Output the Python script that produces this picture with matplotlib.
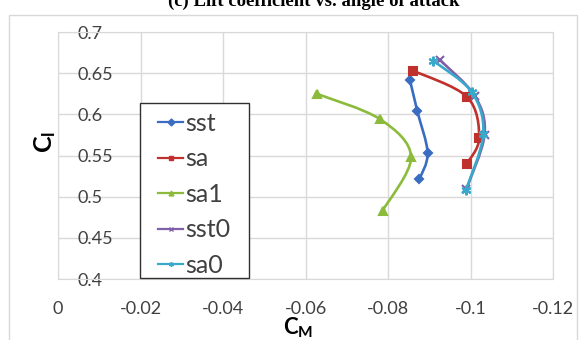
import matplotlib
matplotlib.use('Agg')
import matplotlib.pyplot as plt
from matplotlib.path import Path
from matplotlib.patches import PathPatch, Rectangle
from matplotlib.lines import Line2D

plt.rcParams['font.family'] = ['Lato', 'DejaVu Sans']
plt.rcParams['mathtext.fontset'] = 'custom'
plt.rcParams['mathtext.rm'] = 'Lato'
plt.rcParams['mathtext.bf'] = 'Lato:bold'

# data (C_M, C_l)
names = ['sst', 'sa', 'sa1', 'sst0', 'sa0']
sst_cm = [-0.0853, -0.0871, -0.0896, -0.0876]
sst_cl = [0.642, 0.604, 0.553, 0.521]
sa_cm = [-0.0861, -0.0992, -0.1021, -0.0991]
sa_cl = [0.653, 0.621, 0.571, 0.540]
sa1_cm = [-0.0627, -0.0781, -0.0856, -0.0787]
sa1_cl = [0.625, 0.594, 0.548, 0.483]
sst0_cm = [-0.0926, -0.1011, -0.1034, -0.0990]
sst0_cl = [0.666, 0.622, 0.575, 0.509]
sa0_cm = [-0.0910, -0.1003, -0.1031, -0.0989]
sa0_cl = [0.665, 0.627, 0.576, 0.508]

xticks = [0, -0.02, -0.04, -0.06, -0.08, -0.1, -0.12]
xticklabels = ['0', '-0.02', '-0.04', '-0.06', '-0.08', '-0.1', '-0.12']
yticks = [0.4, 0.45, 0.5, 0.55, 0.6, 0.65, 0.7]
yticklabels = ['0.4', '0.45', '0.5', '0.55', '0.6', '0.65', '0.7']

colors = ['#3A6CC2', '#C0302C', '#8CBB3C', '#7E5FA8', '#38A9CA']
markers = ['D', 's', '^', 'x', (6, 2, 0)]
msizes = [4.5, 6, 6, 6, 7]


def smooth_path(xs, ys):
    # Excel-style smoothed line: cubic bezier through the points
    pts = list(zip(xs, ys))
    verts = [pts[0]]
    codes = [Path.MOVETO]
    n = len(pts)
    for i in range(n - 1):
        p0 = pts[i - 1] if i > 0 else pts[i]
        p1 = pts[i]
        p2 = pts[i + 1]
        p3 = pts[i + 2] if i + 2 < n else pts[i + 1]
        c1 = (p1[0] + (p2[0] - p0[0]) / 6, p1[1] + (p2[1] - p0[1]) / 6)
        c2 = (p2[0] - (p3[0] - p1[0]) / 6, p2[1] - (p3[1] - p1[1]) / 6)
        verts += [c1, c2, p2]
        codes += [Path.CURVE4] * 3
    return Path(verts, codes)


fig = plt.figure(figsize=(5.79, 3.4), dpi=100)
ax = fig.add_axes([58 / 579, 1 - 279 / 340, 495 / 579, 247 / 340])

data = [(sst_cm, sst_cl), (sa_cm, sa_cl), (sa1_cm, sa1_cl),
        (sst0_cm, sst0_cl), (sa0_cm, sa0_cl)]
handles = []
for k, (xs, ys) in enumerate(data):
    ax.add_patch(PathPatch(smooth_path(xs, ys), fill=False,
                           ec=colors[k], lw=1.9, zorder=3 + k))
    ax.plot(xs, ys, ls='none', marker=markers[k], ms=msizes[k],
            color=colors[k], mew=1.5, zorder=3 + k)
    handles.append(Line2D([], [], color=colors[k], lw=1.6,
                          marker=markers[k], ms=3.5, mew=1))

ax.set_xlim(0, -0.12)
ax.set_ylim(0.4, 0.7)
ax.set_xticks(xticks)
ax.set_xticklabels(xticklabels)
ax.set_yticks(yticks)
ax.set_yticklabels(yticklabels)
ax.grid(color='#D9D9D9', lw=1)
ax.set_axisbelow(True)
for s in ax.spines.values():
    s.set_color('#D9D9D9')
ax.tick_params(length=0, labelsize=13, labelcolor='#404040')
ax.tick_params(axis='x', pad=16)
ax.tick_params(axis='y', pad=-14)
for lbl in ax.get_yticklabels():
    lbl.set_horizontalalignment('left')

# legend box drawn separately so the padding can match the reference
ax.add_patch(Rectangle((140 / 579, 1 - 278 / 340), 109 / 579, 175 / 340,
                       transform=fig.transFigure, fc='white', ec='#303030',
                       lw=1, zorder=10, clip_on=False))
leg = ax.legend(handles, names, loc='upper left',
                bbox_to_anchor=(158 / 579, 1 - 112 / 340),
                bbox_transform=fig.transFigure, borderaxespad=0,
                fontsize=18, handlelength=1.0, handletextpad=0.1,
                labelspacing=0.5, borderpad=0, frameon=False)
leg.set_zorder(11)
for t in leg.get_texts():
    t.set_color('#404040')

fig.text(298 / 579, 1 - 334 / 340, r'$\mathbf{C_M}$', fontsize=16,
         ha='center', va='baseline')
fig.text(45 / 579, 1 - 142 / 340, r'$\mathbf{C_l}$', fontsize=18,
         rotation=90, ha='center', va='center')
fig.text(314 / 579, 1 - 6 / 340, '(c) Lift coefficient vs. angle of attack',
         family='Liberation Serif', weight='bold', fontsize=13.5,
         ha='center', va='baseline')

fig.add_artist(Rectangle((9 / 579, -0.05), 568 / 579, 1 - 15 / 340 + 0.05,
                         transform=fig.transFigure, fill=False,
                         ec='#D9D9D9', lw=1))

fig.savefig('out.png', dpi=100)
